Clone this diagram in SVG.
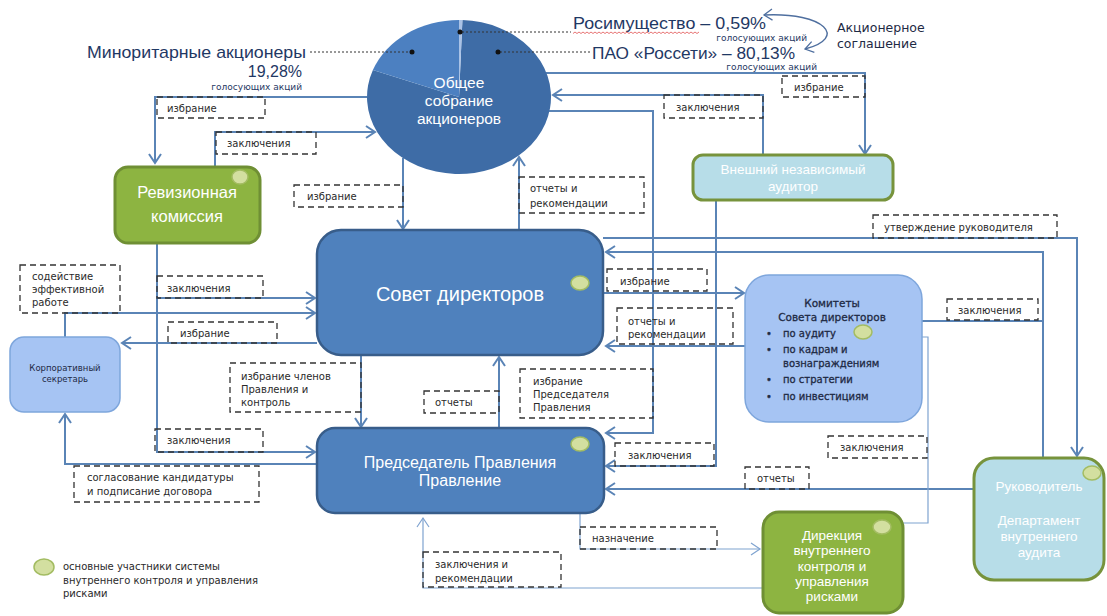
<svg xmlns="http://www.w3.org/2000/svg" width="1107" height="616" viewBox="0 0 1107 616">
<style>
  .bg { fill: #ffffff; }
  .cn { fill: none; stroke: #5A84B6; stroke-width: 2; }
  .cn-thin { fill: none; stroke: #7FA3D0; stroke-width: 1.2; }
  .lbl { fill: none; stroke: #333333; stroke-width: 1.3; stroke-dasharray: 6 4; }
  .lt { font-family: "DejaVu Sans", Verdana, sans-serif; font-size: 10px; fill: #2a2a2a; }
  .big { font-family: "Liberation Sans", Arial, sans-serif; fill: #1F3864; }
  .small { font-family: "DejaVu Sans", Verdana, sans-serif; font-size: 9px; fill: #1F3864; }
  .node-blue { fill: #4F81BD; stroke: #385D8A; stroke-width: 2.5; }
  .node-light { fill: #A6C4F3; stroke: #7EA6DC; stroke-width: 1.5; }
  .node-green { fill: #8DB441; stroke: #6F8F34; stroke-width: 3; }
  .node-teal { fill: #B7DDE8; stroke: #77933C; stroke-width: 3; }
  .wt { font-family: "Liberation Sans", Arial, sans-serif; fill: #ffffff; text-anchor: middle; }
  .dk { font-family: "DejaVu Sans", Verdana, sans-serif; fill: #1E2A44; }
  .semi { stroke: #1E2A44; stroke-width: 0.3; }
  .dot { fill: #D3DFA0; stroke: #A3BC62; stroke-width: 1.5; }
  .lead { fill: none; stroke: #333333; stroke-width: 1; stroke-dasharray: 2 2; }
</style>
<defs>
  <marker id="arr" viewBox="0 0 12 14" refX="10" refY="7" markerWidth="12" markerHeight="14" markerUnits="userSpaceOnUse" orient="auto">
    <path d="M1,1 L10,7 L1,13" fill="none" stroke="#5A84B6" stroke-width="2"/>
  </marker>
  <marker id="arr-thin" viewBox="0 0 12 14" refX="10" refY="7" markerWidth="12" markerHeight="14" markerUnits="userSpaceOnUse" orient="auto">
    <path d="M1,1 L10,7 L1,13" fill="none" stroke="#7FA3D0" stroke-width="1.2"/>
  </marker>
  <marker id="arr-curve" viewBox="0 0 12 14" refX="10" refY="7" markerWidth="11" markerHeight="13" markerUnits="userSpaceOnUse" orient="auto-start-reverse">
    <path d="M1,1 L10,7 L1,13" fill="none" stroke="#4F6F9F" stroke-width="1.4"/>
  </marker>
</defs>
<rect class="bg" x="0" y="0" width="1107" height="616"/>

<!-- connectors -->
<g id="connectors">
  <path class="cn" d="M367,97 H155 V163" marker-end="url(#arr)"/>
  <path class="cn" d="M215,167 V132 H375" marker-end="url(#arr)"/>
  <path class="cn" d="M403,158 V229" marker-end="url(#arr)"/>
  <path class="cn" d="M519,230 V157" marker-end="url(#arr)"/>
  <path class="cn" d="M546,73 H865 V154" marker-end="url(#arr)"/>
  <path class="cn" d="M763,155 V95 H553" marker-end="url(#arr)"/>
  <path class="cn" d="M549,111 H653 V433 H606" marker-end="url(#arr)"/>
  <path class="cn" d="M716,200 V466 H606" marker-end="url(#arr)"/>
  <path class="cn" d="M603,293 H744" marker-end="url(#arr)"/>
  <path class="cn" d="M745,346 H606" marker-end="url(#arr)"/>
  <path class="cn" d="M603,238 H1077 V456" marker-end="url(#arr)"/>
  <path class="cn" d="M1043,458 V252 H606" marker-end="url(#arr)"/>
  <path class="cn" d="M1043,321 H885" marker-end="url(#arr)"/>
  <path class="cn" d="M973,489 H606" marker-end="url(#arr)"/>
  <path class="cn" d="M361,355 V427" marker-end="url(#arr)"/>
  <path class="cn" d="M499,428 V357" marker-end="url(#arr)"/>
  <path class="cn" d="M157,243 V452 H315" marker-end="url(#arr)"/>
  <path class="cn" d="M157,298 H315" marker-end="url(#arr)"/>
  <path class="cn" d="M65,337 V313 H315" marker-end="url(#arr)"/>
  <path class="cn" d="M317,343 H122" marker-end="url(#arr)"/>
  <path class="cn" d="M317,464 H65 V414" marker-end="url(#arr)"/>
  <path class="cn-thin" d="M903,523 H928 V337 H877" marker-end="url(#arr-thin)"/>
  <path class="cn-thin" d="M580,514 V549 H760" marker-end="url(#arr-thin)"/>
  <path class="cn-thin" d="M763,588 H423 V518" marker-end="url(#arr-thin)"/>
</g>

<!-- connector labels -->
<g id="labels">
  <rect class="lbl" x="157" y="97" width="108" height="21"/><text class="lt" x="167" y="112">избрание</text>
  <rect class="lbl" x="216" y="132" width="100" height="22"/><text class="lt" x="227" y="147">заключения</text>
  <rect class="lbl" x="294" y="185" width="109" height="22"/><text class="lt" x="307" y="200">избрание</text>
  <rect class="lbl" x="519" y="177" width="125" height="36"/><text class="lt" x="530" y="192">отчеты и</text><text class="lt" x="530" y="207">рекомендации</text>
  <rect class="lbl" x="782" y="76" width="83" height="21"/><text class="lt" x="794" y="91">избрание</text>
  <rect class="lbl" x="664" y="95" width="99" height="23"/><text class="lt" x="676" y="111">заключения</text>
  <rect class="lbl" x="520" y="369" width="133" height="49"/><text class="lt" x="533" y="385">избрание</text><text class="lt" x="533" y="398">Председателя</text><text class="lt" x="533" y="411">Правления</text>
  <rect class="lbl" x="615" y="443" width="99" height="23"/><text class="lt" x="628" y="459">заключения</text>
  <rect class="lbl" x="607" y="269" width="100" height="22"/><text class="lt" x="620" y="285">избрание</text>
  <rect class="lbl" x="617" y="308" width="116" height="36"/><text class="lt" x="628" y="325">отчеты и</text><text class="lt" x="628" y="338">рекомендации</text>
  <rect class="lbl" x="873" y="215" width="184" height="23"/><text class="lt" x="884" y="231">утверждение руководителя</text>
  <rect class="lbl" x="947" y="299" width="91" height="21"/><text class="lt" x="958" y="314">заключения</text>
  <rect class="lbl" x="828" y="436" width="99" height="22"/><text class="lt" x="840" y="451">заключения</text>
  <rect class="lbl" x="745" y="467" width="64" height="22"/><text class="lt" x="757" y="482">отчеты</text>
  <rect class="lbl" x="580" y="527" width="137" height="22"/><text class="lt" x="592" y="542">назначение</text>
  <rect class="lbl" x="423" y="552" width="138" height="35"/><text class="lt" x="435" y="568">заключения и</text><text class="lt" x="435" y="582">рекомендации</text>
  <rect class="lbl" x="230" y="363" width="131" height="49"/><text class="lt" x="241" y="380">избрание членов</text><text class="lt" x="241" y="393">Правления и</text><text class="lt" x="241" y="406">контроль</text>
  <rect class="lbl" x="424" y="391" width="75" height="22"/><text class="lt" x="435" y="406">отчеты</text>
  <rect class="lbl" x="157" y="276" width="106" height="22"/><text class="lt" x="167" y="292">заключения</text>
  <rect class="lbl" x="155" y="429" width="108" height="23"/><text class="lt" x="167" y="444">заключения</text>
  <rect class="lbl" x="20" y="265" width="100" height="48"/><text class="lt" x="32" y="280">содействие</text><text class="lt" x="32" y="293">эффективной</text><text class="lt" x="32" y="306">работе</text>
  <rect class="lbl" x="168" y="322" width="109" height="21"/><text class="lt" x="180" y="337">избрание</text>
  <rect class="lbl" x="74" y="466" width="185" height="36"/><text class="lt" x="87" y="481">согласование кандидатуры</text><text class="lt" x="87" y="495">и подписание договора</text>
</g>

<!-- general meeting: shareholding pie -->
<g id="meeting">
  <path d="M459,97 L462.4,20.05 A92,77 0 1 1 372.9,69.9 Z" fill="#3E6CA6"/>
  <path d="M459,97 L372.9,69.9 A92,77 0 0 1 459,20 Z" fill="#4C80C1"/>
  <path d="M459,97 L459,20 A92,77 0 0 1 462.4,20.05 Z" fill="#A9C2E6"/>
  <text class="wt" x="459" y="88" font-size="15.5">Общее</text>
  <text class="wt" x="459" y="106" font-size="15.5">собрание</text>
  <text class="wt" x="459" y="124" font-size="15.5">акционеров</text>
</g>

<!-- shareholders -->
<g id="shareholders">
  <path class="lead" d="M310,52 H410"/>
  <circle cx="412" cy="52" r="2.5" fill="#111"/>
  <text class="big" x="87" y="58" font-size="17" textLength="219" lengthAdjust="spacingAndGlyphs">Миноритарные акционеры</text>
  <text class="big" x="302" y="77" font-size="16" text-anchor="end">19,28%</text>
  <text class="small" x="302" y="90" text-anchor="end">голосующих акций</text>

  <path class="lead" d="M462,32 H571"/>
  <circle cx="460" cy="32" r="2.5" fill="#111"/>
  <text class="big" x="573" y="29" font-size="17" textLength="193" lengthAdjust="spacingAndGlyphs">Росимущество – 0,59%</text>
  <path d="M573,33.5 l2,-1.5 l2,1.5 l2,-1.5 l2,1.5 l2,-1.5 l2,1.5 l2,-1.5 l2,1.5 l2,-1.5 l2,1.5 l2,-1.5 l2,1.5 l2,-1.5 l2,1.5 l2,-1.5 l2,1.5 l2,-1.5 l2,1.5 l2,-1.5 l2,1.5 l2,-1.5 l2,1.5 l2,-1.5 l2,1.5 l2,-1.5 l2,1.5 l2,-1.5 l2,1.5 l2,-1.5 l2,1.5 l2,-1.5 l2,1.5 l2,-1.5 l2,1.5 l2,-1.5 l2,1.5 l2,-1.5 l2,1.5 l2,-1.5 l2,1.5 l2,-1.5 l2,1.5 l2,-1.5 l2,1.5 l2,-1.5 l2,1.5 l2,-1.5 l2,1.5 l2,-1.5 l2,1.5 l2,-1.5 l2,1.5 l2,-1.5 l2,1.5 l2,-1.5 l2,1.5 l2,-1.5 l2,1.5 l2,-1.5 l2,1.5 l2,-1.5 l2,1.5 l2,-1.5" fill="none" stroke="#E05050" stroke-width="0.8"/>
  <text class="small" x="807" y="41" font-size="8.5" text-anchor="end">голосующих акций</text>

  <path class="lead" d="M500,52 H590"/>
  <circle cx="498" cy="52" r="2.5" fill="#111"/>
  <text class="big" x="592" y="59" font-size="17" textLength="203" lengthAdjust="spacingAndGlyphs">ПАО «Россети» – 80,13%</text>
  <text class="small" x="817" y="70" font-size="9" text-anchor="end">голосующих акций</text>

  <path d="M764,15 C825,12 848,38 805,49" fill="none" stroke="#4F6F9F" stroke-width="1.4" marker-start="url(#arr-curve)" marker-end="url(#arr-curve)"/>
  <text class="dk" x="837" y="32" font-size="12.5" fill="#1F3864">Акционерное</text>
  <text class="dk" x="837" y="48" font-size="12.5" fill="#1F3864">соглашение</text>
</g>

<!-- audit commission -->
<g id="audit-commission">
  <rect class="node-green" x="115" y="167" width="145" height="76" rx="13"/>
  <text class="wt" x="187" y="198" font-size="16.5">Ревизионная</text>
  <text class="wt" x="187" y="222" font-size="16.5">комиссия</text>
  <ellipse class="dot" cx="240" cy="177" rx="8" ry="7"/>
</g>

<!-- board of directors -->
<g id="board">
  <rect class="node-blue" x="317" y="230" width="286" height="125" rx="24"/>
  <text class="wt" x="460" y="301" font-size="20">Совет директоров</text>
  <ellipse class="dot" cx="580" cy="283" rx="9" ry="7"/>
</g>

<!-- management board -->
<g id="management">
  <rect class="node-blue" x="317" y="428" width="287" height="85" rx="18"/>
  <text class="wt" x="460" y="468" font-size="16">Председатель Правления</text>
  <text class="wt" x="460" y="486" font-size="16">Правление</text>
  <ellipse class="dot" cx="580" cy="444" rx="9" ry="7"/>
</g>

<!-- board committees -->
<g id="committees">
  <rect class="node-light" x="745" y="275" width="177" height="147" rx="24"/>
  <text class="dk semi" x="832" y="307" font-size="10.5" text-anchor="middle">Комитеты</text>
  <text class="dk semi" x="832" y="321" font-size="10.5" text-anchor="middle">Совета директоров</text>
  <g class="dk semi" font-size="10">
    <text x="766" y="337">•</text><text x="783" y="337">по аудиту</text>
    <text x="766" y="353">•</text><text x="783" y="353">по кадрам  и</text>
    <text x="783" y="367">вознаграждениям</text>
    <text x="766" y="383">•</text><text x="783" y="383">по стратегии</text>
    <text x="766" y="400">•</text><text x="783" y="400">по инвестициям</text>
  </g>
  <ellipse class="dot" cx="863" cy="332" rx="9" ry="7"/>
</g>

<!-- corporate secretary -->
<g id="secretary">
  <rect class="node-light" x="10" y="337" width="110" height="75" rx="14"/>
  <text class="dk" x="65" y="371" font-size="8.5" text-anchor="middle">Корпоративный</text>
  <text class="dk" x="65" y="382" font-size="8.5" text-anchor="middle">секретарь</text>
</g>

<!-- external auditor -->
<g id="external-auditor">
  <rect class="node-teal" x="693" y="155" width="200" height="45" rx="10"/>
  <text class="wt" x="793" y="174" font-size="13.5">Внешний независимый</text>
  <text class="wt" x="793" y="191" font-size="13.5">аудитор</text>
</g>

<!-- internal audit department -->
<g id="internal-audit">
  <rect class="node-teal" x="974" y="458" width="130" height="122" rx="20"/>
  <text class="wt" x="1039" y="491" font-size="13.5">Руководитель</text>
  <text class="wt" x="1039" y="525" font-size="13.5">Департамент</text>
  <text class="wt" x="1039" y="541" font-size="13.5">внутреннего</text>
  <text class="wt" x="1039" y="557" font-size="13.5">аудита</text>
  <ellipse class="dot" cx="1092" cy="473" rx="9" ry="7"/>
</g>

<!-- internal control and risk directorate -->
<g id="risk-directorate">
  <rect class="node-green" x="763" y="512" width="140" height="101" rx="16"/>
  <text class="wt" x="832" y="540" font-size="13.5">Дирекция</text>
  <text class="wt" x="832" y="555" font-size="13.5">внутреннего</text>
  <text class="wt" x="832" y="571" font-size="13.5">контроля  и</text>
  <text class="wt" x="832" y="586" font-size="13.5">управления</text>
  <text class="wt" x="832" y="601" font-size="13.5">рисками</text>
  <ellipse class="dot" cx="882" cy="527" rx="9" ry="7"/>
</g>

<!-- legend -->
<g id="legend">
  <ellipse class="dot" cx="44" cy="567" rx="10" ry="8"/>
  <text class="lt" x="63" y="570" font-size="9.5" fill="#404040">основные участники системы</text>
  <text class="lt" x="63" y="584" font-size="9.5" fill="#404040">внутреннего контроля и управления</text>
  <text class="lt" x="63" y="597" font-size="9.5" fill="#404040">рисками</text>
</g>
</svg>
